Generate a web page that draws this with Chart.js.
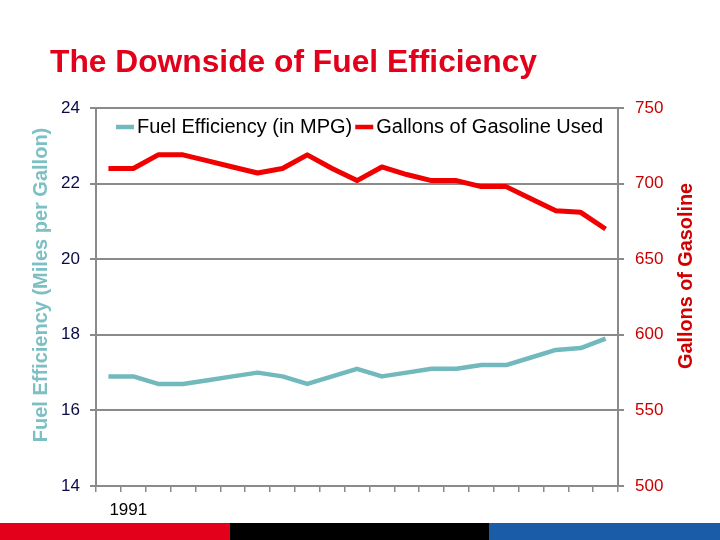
<!DOCTYPE html>
<html><head><meta charset="utf-8">
<script src="https://cdn.jsdelivr.net/npm/chart.js@4/dist/chart.umd.min.js"></script>
<style>html,body{margin:0;padding:0;background:#fff;}canvas{display:block;}</style>
</head><body>
<canvas id="c" width="720" height="540"></canvas>
<script>
// ---- data ----
const categories = ['', '1991', '', '', '', '', '', '', '', '', '', '', '', '', '', '', '', '', '', '', ''];
const fuelEfficiencyMPG = [16.9, 16.9, 16.7, 16.7, 16.8, 16.9, 17.0, 16.9, 16.7, 16.9, 17.1, 16.9, 17.0, 17.1, 17.1, 17.2, 17.2, 17.4, 17.6, 17.65, 17.9];
const gallonsUsed = [710, 710, 719, 719, 715, 711, 707, 710, 719, 710, 702, 711, 706, 702, 702, 698, 698, 690, 682, 681, 670];
const seriesNames = ['Fuel Efficiency (in MPG)', 'Gallons of Gasoline Used'];
const chartTitle = 'The Downside of Fuel Efficiency';
const leftAxisTitle = 'Fuel Efficiency (Miles per Gallon)';
const rightAxisTitle = 'Gallons of Gasoline';
const leftAxisRange = [14, 24, 2];
const rightAxisRange = [500, 750, 50];

const FONT = "'Liberation Sans', Arial, sans-serif";
const TEAL = '#72b9be';
const RED = '#f00000';
const GRID = '#8a8a8a';

const decor = {
  id: 'decor',
  beforeDraw(chart) {
    const ctx = chart.ctx;
    ctx.save();
    ctx.fillStyle = '#ffffff';
    ctx.fillRect(0, 0, chart.width, chart.height);
    // bottom colour band
    ctx.fillStyle = '#e2001a'; ctx.fillRect(0, 523, 230, 17);
    ctx.fillStyle = '#000000'; ctx.fillRect(230, 523, 259, 17);
    ctx.fillStyle = '#1a5ca8'; ctx.fillRect(489, 523, 231, 17);
    ctx.restore();
  },
  afterDraw(chart) {
    const ctx = chart.ctx;
    ctx.save();
    // title
    ctx.fillStyle = '#e2001a';
    ctx.font = 'bold 32px ' + FONT;
    ctx.textAlign = 'left';
    ctx.textBaseline = 'alphabetic';
    ctx.fillText(chartTitle, 50, 72, 487);
    // left axis title
    ctx.save();
    ctx.translate(41, 285);
    ctx.rotate(-Math.PI / 2);
    ctx.fillStyle = '#7cc0c4';
    ctx.font = 'bold 20px ' + FONT;
    ctx.textAlign = 'center';
    ctx.textBaseline = 'middle';
    ctx.fillText(leftAxisTitle, 0, 0, 316);
    ctx.restore();
    // right axis title
    ctx.save();
    ctx.translate(686, 276);
    ctx.rotate(-Math.PI / 2);
    ctx.fillStyle = '#d00000';
    ctx.font = 'bold 20px ' + FONT;
    ctx.textAlign = 'center';
    ctx.textBaseline = 'middle';
    ctx.fillText(rightAxisTitle, 0, 0, 186);
    ctx.restore();
    // legend (inside plot area)
    ctx.font = '20px ' + FONT;
    ctx.textBaseline = 'middle';
    ctx.textAlign = 'left';
    let x = 116;
    const y = 127;
    chart.data.datasets.forEach(ds => {
      ctx.strokeStyle = ds.borderColor;
      ctx.lineWidth = 4.5;
      ctx.lineCap = 'butt';
      ctx.beginPath(); ctx.moveTo(x, y); ctx.lineTo(x + 18, y); ctx.stroke();
      x += 21;
      ctx.fillStyle = '#000000';
      ctx.fillText(ds.label, x, y);
      x += ctx.measureText(ds.label).width + 3;
    });
    ctx.restore();
  }
};

new Chart(document.getElementById('c'), {
  type: 'line',
  data: {
    labels: categories,
    datasets: [
      { label: seriesNames[0], data: fuelEfficiencyMPG, yAxisID: 'y', borderColor: TEAL, backgroundColor: TEAL,
        borderWidth: 4.5, pointRadius: 0, tension: 0, borderJoinStyle: 'round' },
      { label: seriesNames[1], data: gallonsUsed, yAxisID: 'y1', borderColor: RED, backgroundColor: RED,
        borderWidth: 5, pointRadius: 0, tension: 0, borderJoinStyle: 'round' }
    ]
  },
  options: {
    responsive: false,
    animation: false,
    events: [],
    layout: { padding: { top: 108, left: 0, right: 0, bottom: 0 } },
    plugins: { legend: { display: false }, title: { display: false }, tooltip: { enabled: false } },
    scales: {
      x: {
        offset: true,
        afterFit(s) { s.height = 54; },
        grid: { offset: true, drawOnChartArea: false, color: GRID, lineWidth: 1.5, tickLength: 6 },
        border: { display: true, color: GRID, width: 2 },
        ticks: { autoSkip: false, maxRotation: 0, minRotation: 0, padding: 8, labelOffset: -5, color: '#000000', font: { family: FONT, size: 17 } }
      },
      y: {
        position: 'left',
        min: leftAxisRange[0], max: leftAxisRange[1],
        afterFit(s) { s.width = 96; },
        grid: { color: GRID, lineWidth: 2, tickLength: 6 },
        border: { display: true, color: GRID, width: 2 },
        ticks: { stepSize: leftAxisRange[2], padding: 10, color: '#0a0a4a', font: { family: FONT, size: 17 } }
      },
      y1: {
        position: 'right',
        min: rightAxisRange[0], max: rightAxisRange[1],
        afterFit(s) { s.width = 102; },
        grid: { drawOnChartArea: false, color: GRID, lineWidth: 2, tickLength: 6 },
        border: { display: true, color: GRID, width: 2 },
        ticks: { stepSize: rightAxisRange[2], padding: 11, color: '#c80000', font: { family: FONT, size: 17 } }
      }
    }
  },
  plugins: [decor]
});
</script>
</body></html>
